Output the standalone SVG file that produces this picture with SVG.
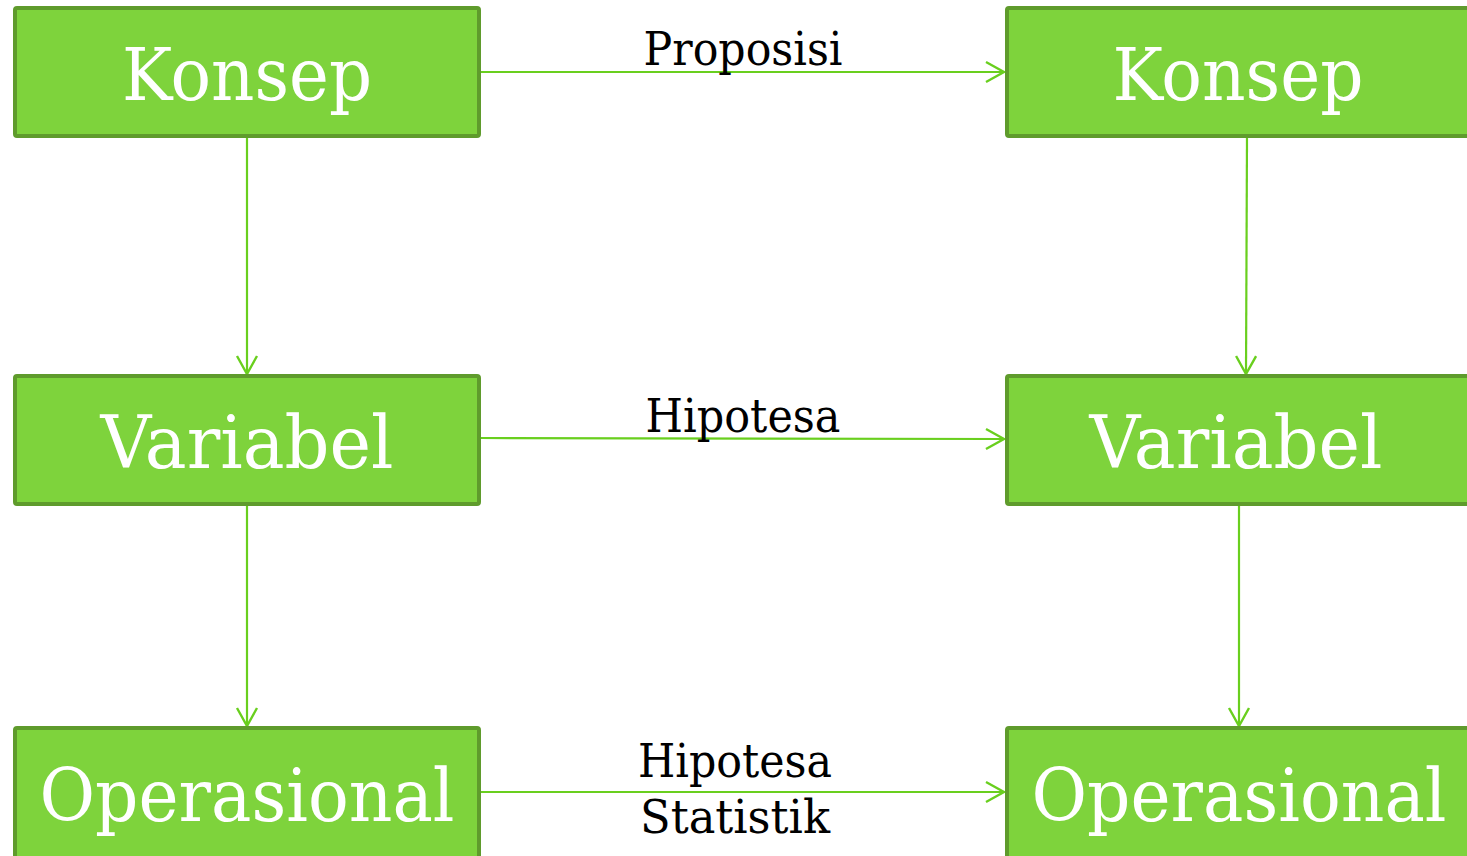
<svg xmlns="http://www.w3.org/2000/svg" width="1467" height="856" viewBox="0 0 1467 856">
  <style>
    .box { fill: #7ed33c; stroke: #5f9b2c; stroke-width: 4; }
    .node-text { font-family: "DejaVu Serif", "Liberation Serif", serif; font-size: 73px; fill: #ffffff; text-anchor: middle; }
    .edge { stroke: #69cf1e; stroke-width: 2.2; fill: none; marker-end: url(#open-arrow); }
    .edge-label { font-family: "DejaVu Serif", "Liberation Serif", serif; font-size: 47px; fill: #000000; text-anchor: middle; }
  </style>
  <defs>
    <marker id="open-arrow" markerUnits="userSpaceOnUse" viewBox="-20 -12 22 24" refX="0" refY="0" markerWidth="22" markerHeight="24" orient="auto">
      <path d="M -18 -10 L 0 0 L -18 10" fill="none" stroke="#69cf1e" stroke-width="2.4"/>
    </marker>
  </defs>
  <rect width="1467" height="856" fill="#ffffff"/>

  <!-- connectors -->
  <g id="connectors">
    <line class="edge" x1="481" y1="72" x2="1004" y2="72"/>
    <line class="edge" x1="481" y1="438" x2="1004" y2="439"/>
    <line class="edge" x1="481" y1="792" x2="1004" y2="792"/>
    <line class="edge" x1="247" y1="137" x2="247" y2="374"/>
    <line class="edge" x1="1247" y1="137" x2="1246" y2="374"/>
    <line class="edge" x1="247" y1="506" x2="247" y2="726"/>
    <line class="edge" x1="1239" y1="506" x2="1239" y2="726"/>
    <text class="edge-label" x="743" y="65" textLength="199" lengthAdjust="spacingAndGlyphs">Proposisi</text>
    <text class="edge-label" x="743" y="432" textLength="195" lengthAdjust="spacingAndGlyphs">Hipotesa</text>
    <text class="edge-label" x="735" y="777" textLength="194" lengthAdjust="spacingAndGlyphs">Hipotesa</text>
    <text class="edge-label" x="735" y="833" textLength="190" lengthAdjust="spacingAndGlyphs">Statistik</text>
  </g>

  <!-- left column -->
  <g id="konsep-left">
    <rect class="box" x="15" y="8" width="464" height="128" rx="2"/>
    <text class="node-text" x="247" y="100" textLength="250" lengthAdjust="spacingAndGlyphs">Konsep</text>
  </g>
  <g id="variabel-left">
    <rect class="box" x="15" y="376" width="464" height="128" rx="2"/>
    <text class="node-text" x="247" y="468" textLength="293" lengthAdjust="spacingAndGlyphs">Variabel</text>
  </g>
  <g id="operasional-left">
    <rect class="box" x="15" y="728" width="464" height="140" rx="2"/>
    <text class="node-text" x="247" y="821" textLength="415" lengthAdjust="spacingAndGlyphs">Operasional</text>
  </g>

  <!-- right column -->
  <g id="konsep-right">
    <rect class="box" x="1007" y="8" width="466" height="128" rx="2"/>
    <text class="node-text" x="1238" y="100" textLength="251" lengthAdjust="spacingAndGlyphs">Konsep</text>
  </g>
  <g id="variabel-right">
    <rect class="box" x="1007" y="376" width="466" height="128" rx="2"/>
    <text class="node-text" x="1236" y="468" textLength="293" lengthAdjust="spacingAndGlyphs">Variabel</text>
  </g>
  <g id="operasional-right">
    <rect class="box" x="1007" y="728" width="466" height="140" rx="2"/>
    <text class="node-text" x="1239" y="821" textLength="415" lengthAdjust="spacingAndGlyphs">Operasional</text>
  </g>
</svg>
